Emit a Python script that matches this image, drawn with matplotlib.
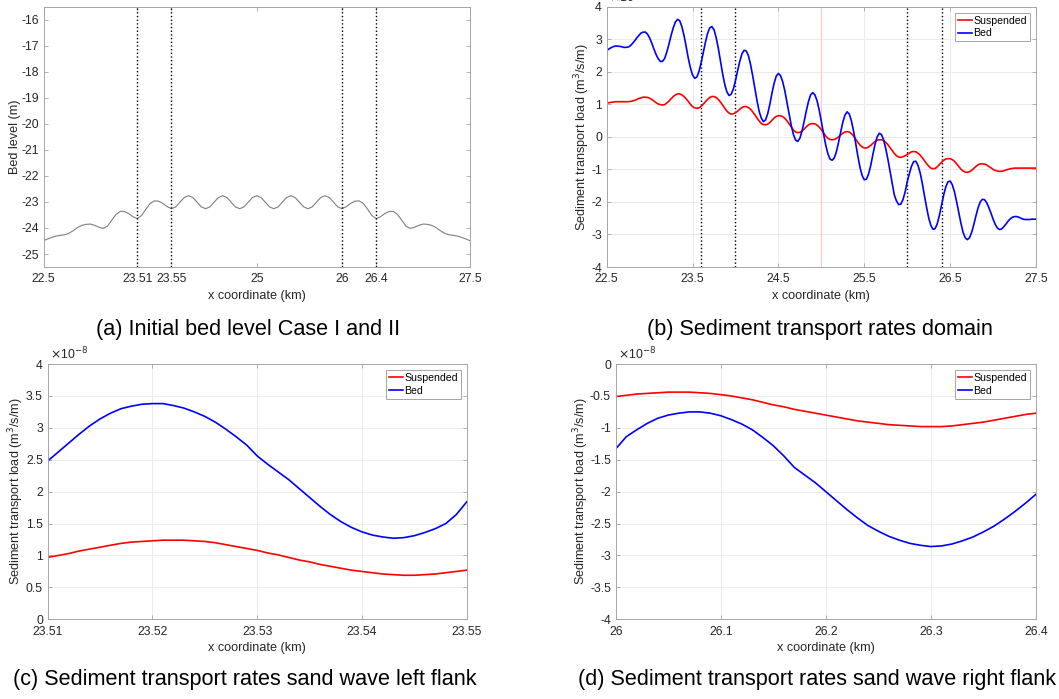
import numpy as np
import matplotlib
matplotlib.use("Agg")
import matplotlib.pyplot as plt
import matplotlib.ticker as mticker

plt.rcParams['font.family'] = ['Liberation Sans', 'DejaVu Sans']
plt.rcParams['axes.unicode_minus'] = False

# (a) initial bed level, sampled every 0.05 km from 22.5 to 27.5
bed_level = [
    -24.49, -24.42, -24.36, -24.31,
    -24.28, -24.26, -24.20, -24.10,
    -23.98, -23.90, -23.86, -23.85,
    -23.90, -23.97, -24.02, -23.93,
    -23.70, -23.48, -23.36, -23.37,
    -23.45, -23.57, -23.64, -23.52,
    -23.28, -23.06, -22.96, -22.97,
    -23.06, -23.18, -23.26, -23.19,
    -23.01, -22.83, -22.76, -22.83,
    -23.01, -23.19, -23.26, -23.19,
    -23.01, -22.83, -22.76, -22.83,
    -23.01, -23.19, -23.26, -23.19,
    -23.01, -22.83, -22.76, -22.83,
    -23.01, -23.19, -23.26, -23.19,
    -23.01, -22.83, -22.76, -22.83,
    -23.01, -23.19, -23.26, -23.19,
    -23.01, -22.83, -22.76, -22.83,
    -23.01, -23.19, -23.26, -23.18,
    -23.06, -22.97, -22.96, -23.06,
    -23.28, -23.52, -23.64, -23.57,
    -23.45, -23.37, -23.36, -23.48,
    -23.70, -23.93, -24.02, -23.97,
    -23.90, -23.85, -23.86, -23.90,
    -23.98, -24.10, -24.20, -24.26,
    -24.28, -24.31, -24.36, -24.42,
    -24.49,
]
x_a = np.linspace(22.5, 27.5, len(bed_level))

# (b) transport over the domain (x 1e-8), sampled every 0.025 km
bed_dom = [
    2.65, 2.70, 2.74, 2.77, 2.79, 2.79, 2.78, 2.77,
    2.75, 2.75, 2.76, 2.80, 2.87, 2.95, 3.04, 3.12,
    3.19, 3.22, 3.22, 3.16, 3.04, 2.88, 2.70, 2.53,
    2.40, 2.32, 2.32, 2.41, 2.61, 2.85, 3.12, 3.35,
    3.53, 3.61, 3.57, 3.39, 3.12, 2.78, 2.42, 2.12,
    1.90, 1.80, 1.84, 2.01, 2.28, 2.60, 2.91, 3.18,
    3.35, 3.39, 3.29, 3.05, 2.72, 2.33, 1.94, 1.61,
    1.38, 1.27, 1.31, 1.47, 1.73, 2.04, 2.32, 2.55,
    2.66, 2.64, 2.50, 2.23, 1.88, 1.50, 1.12, 0.79,
    0.58, 0.47, 0.52, 0.71, 1.00, 1.35, 1.65, 1.87,
    1.95, 1.88, 1.69, 1.41, 1.05, 0.69, 0.34, 0.07,
    -0.10, -0.14, -0.04, 0.18, 0.48, 0.80, 1.09, 1.29,
    1.36, 1.29, 1.11, 0.82, 0.47, 0.10, -0.24, -0.51,
    -0.68, -0.72, -0.65, -0.46, -0.17, 0.15, 0.45, 0.67,
    0.77, 0.70, 0.49, 0.18, -0.20, -0.59, -0.94, -1.19,
    -1.32, -1.30, -1.14, -0.88, -0.54, -0.23, 0.00, 0.11,
    0.07, -0.09, -0.36, -0.69, -1.06, -1.43, -1.79, -1.97,
    -2.08, -2.07, -1.93, -1.70, -1.38, -1.13, -0.90, -0.76,
    -0.75, -0.87, -1.10, -1.42, -1.80, -2.16, -2.49, -2.72,
    -2.84, -2.82, -2.67, -2.41, -2.10, -1.78, -1.53, -1.38,
    -1.36, -1.47, -1.69, -1.99, -2.32, -2.65, -2.93, -3.10,
    -3.16, -3.10, -2.94, -2.70, -2.43, -2.18, -2.00, -1.92,
    -1.93, -2.02, -2.17, -2.34, -2.53, -2.69, -2.80, -2.85,
    -2.83, -2.76, -2.68, -2.59, -2.52, -2.47, -2.45, -2.45,
    -2.47, -2.50, -2.53, -2.54, -2.54, -2.54, -2.53, -2.53,
    -2.53,
]
susp_dom = [
    1.03, 1.05, 1.06, 1.07, 1.08, 1.08, 1.08, 1.08,
    1.08, 1.08, 1.08, 1.09, 1.10, 1.12, 1.15, 1.18,
    1.20, 1.22, 1.22, 1.21, 1.19, 1.15, 1.10, 1.05,
    1.01, 0.99, 0.98, 0.99, 1.04, 1.10, 1.17, 1.24,
    1.29, 1.32, 1.32, 1.29, 1.24, 1.17, 1.09, 1.00,
    0.93, 0.89, 0.88, 0.89, 0.94, 1.01, 1.08, 1.15,
    1.21, 1.24, 1.24, 1.21, 1.15, 1.07, 0.98, 0.88,
    0.79, 0.73, 0.70, 0.71, 0.74, 0.79, 0.85, 0.90,
    0.93, 0.93, 0.90, 0.85, 0.77, 0.68, 0.58, 0.49,
    0.41, 0.38, 0.37, 0.39, 0.44, 0.51, 0.58, 0.63,
    0.65, 0.65, 0.62, 0.57, 0.49, 0.40, 0.30, 0.21,
    0.15, 0.13, 0.14, 0.18, 0.24, 0.31, 0.37, 0.40,
    0.41, 0.40, 0.36, 0.30, 0.22, 0.13, 0.03, -0.04,
    -0.08, -0.09, -0.08, -0.05, 0.00, 0.06, 0.11, 0.15,
    0.16, 0.15, 0.10, 0.03, -0.07, -0.17, -0.25, -0.31,
    -0.34, -0.34, -0.31, -0.26, -0.20, -0.14, -0.10, -0.09,
    -0.09, -0.12, -0.17, -0.24, -0.33, -0.42, -0.51, -0.58,
    -0.62, -0.63, -0.61, -0.58, -0.54, -0.50, -0.46, -0.45,
    -0.46, -0.50, -0.56, -0.64, -0.73, -0.82, -0.90, -0.96,
    -0.98, -0.97, -0.92, -0.85, -0.78, -0.72, -0.68, -0.67,
    -0.67, -0.70, -0.75, -0.83, -0.91, -0.99, -1.05, -1.08,
    -1.09, -1.07, -1.03, -0.97, -0.91, -0.86, -0.83, -0.83,
    -0.84, -0.86, -0.91, -0.95, -1.00, -1.03, -1.05, -1.06,
    -1.06, -1.04, -1.02, -1.00, -0.98, -0.97, -0.96, -0.96,
    -0.96, -0.96, -0.96, -0.96, -0.96, -0.96, -0.96, -0.96,
    -0.96,
]
x_b = np.linspace(22.5, 27.5, len(bed_dom))

# (c) left flank, every 0.001 km
bed_left = [
    2.48, 2.62, 2.76, 2.90, 3.03, 3.14, 3.23, 3.30, 3.34, 3.37,
    3.38, 3.38, 3.35, 3.31, 3.25, 3.18, 3.09, 2.98, 2.86, 2.73,
    2.56, 2.43, 2.31, 2.19, 2.05, 1.91, 1.77, 1.64, 1.53, 1.44,
    1.37, 1.32, 1.29, 1.27, 1.28, 1.31, 1.36, 1.42, 1.50, 1.64,
    1.84,
]
susp_left = [
    0.97, 1.00, 1.03, 1.07, 1.10, 1.13, 1.16, 1.19, 1.21, 1.22,
    1.23, 1.24, 1.24, 1.24, 1.23, 1.22, 1.20, 1.17, 1.14, 1.11,
    1.08, 1.04, 1.01, 0.97, 0.93, 0.90, 0.86, 0.83, 0.80, 0.77,
    0.75, 0.73, 0.71, 0.70, 0.69, 0.69, 0.70, 0.71, 0.73, 0.75,
    0.77,
]
x_c = np.linspace(23.51, 23.55, len(bed_left))

# (d) right flank, every 0.01 km
bed_right = [
    -1.33, -1.14, -1.03, -0.93, -0.85, -0.80, -0.77, -0.75, -0.75, -0.77,
    -0.81, -0.87, -0.94, -1.03, -1.15, -1.28, -1.44, -1.62, -1.74, -1.86,
    -2.00, -2.14, -2.28, -2.41, -2.53, -2.62, -2.70, -2.76, -2.81, -2.84,
    -2.86, -2.85, -2.82, -2.77, -2.71, -2.63, -2.54, -2.43, -2.31, -2.18,
    -2.04,
]
susp_right = [
    -0.51, -0.49, -0.47, -0.46, -0.45, -0.44, -0.44, -0.44, -0.45, -0.46,
    -0.48, -0.50, -0.53, -0.56, -0.60, -0.64, -0.67, -0.71, -0.74, -0.77,
    -0.80, -0.83, -0.86, -0.89, -0.91, -0.93, -0.95, -0.96, -0.97, -0.98,
    -0.98, -0.98, -0.97, -0.95, -0.93, -0.91, -0.88, -0.85, -0.82, -0.79,
    -0.77,
]
x_d = np.linspace(26.0, 26.4, len(bed_right))

marker_x = [23.6, 24.0, 26.0, 26.4]
ticks_a = [22.5, 23.6, 24.0, 25.0, 26.0, 26.4, 27.5]
ticklabels_a = ['22.5', '23.51', '23.55', '25', '26', '26.4', '27.5']

TICK_FS = 8.8
LAB_FS = 9.1
LEG_FS = 7.6
YLAB = 'Sediment transport load (m$^3$/s/m)'
TXT = '#262626'
SPINE = '#a6a6a6'


def style(ax, grid=True):
    for s in ax.spines.values():
        s.set_color(SPINE)
        s.set_linewidth(0.7)
    ax.tick_params(direction='in', top=True, right=True, length=3,
                   width=0.6, color=SPINE, labelsize=TICK_FS, labelcolor=TXT, pad=3.4)
    ax.tick_params(axis='x', pad=4.6)
    ax.yaxis.set_major_formatter(mticker.FuncFormatter(lambda v, _: f'{v:g}'))
    if grid:
        ax.grid(True, color='#ebebeb', linewidth=0.7)
        ax.set_axisbelow(True)
    ax.set_xlabel('x coordinate (km)', fontsize=LAB_FS, color=TXT, labelpad=3)


def exponent(ax):
    ax.text(0.005, 1.005, r'$\times$10$^{-8}$', transform=ax.transAxes,
            fontsize=TICK_FS, color=TXT, va='bottom', ha='left')


def legend(ax):
    lg = ax.legend(loc='upper right', fontsize=LEG_FS, fancybox=False,
                   edgecolor='#a6a6a6', framealpha=1, borderpad=0.3,
                   handlelength=1.35, handletextpad=0.1, labelspacing=0.25,
                   borderaxespad=0.55)
    lg.get_frame().set_linewidth(0.7)


fig = plt.figure(figsize=(10.59, 6.99), dpi=100)

# (a)
ax_a = fig.add_axes([0.0411, 0.618, 0.4027, 0.3724])
ax_a.plot(x_a, bed_level, color='#7f7f7f', linewidth=0.8)
for xv in marker_x:
    ax_a.axvline(xv, color='black', linestyle=':', linewidth=1.0)
ax_a.set_xlim(22.5, 27.5)
ax_a.set_ylim(-25.5, -15.5)
ax_a.set_yticks(np.arange(-25, -15, 1))
ax_a.set_xticks(ticks_a)
ax_a.set_xticklabels(ticklabels_a)
style(ax_a, grid=False)
ax_a.set_ylabel('Bed level (m)', fontsize=LAB_FS, color=TXT, labelpad=0)

# (b)
ax_b = fig.add_axes([0.5729, 0.618, 0.4054, 0.3724])
ax_b.axvline(25.0, color='#ffc8c8', linewidth=0.8)
for xv in marker_x:
    ax_b.axvline(xv, color='black', linestyle=':', linewidth=1.0)
ax_b.plot(x_b, susp_dom, color='#ff0000', linewidth=1.2, label='Suspended')
ax_b.plot(x_b, bed_dom, color='#0000ff', linewidth=1.2, label='Bed')
ax_b.set_xlim(22.5, 27.5)
ax_b.set_ylim(-4, 4)
ax_b.set_xticks(np.arange(22.5, 27.6, 1.0))
ax_b.set_yticks(np.arange(-4, 5, 1))
style(ax_b)
ax_b.set_ylabel(YLAB, fontsize=LAB_FS, color=TXT, labelpad=-0.5)
exponent(ax_b)
legend(ax_b)

# (c)
ax_c = fig.add_axes([0.045, 0.114, 0.3957, 0.3652])
ax_c.plot(x_c, susp_left, color='#ff0000', linewidth=1.2, label='Suspended')
ax_c.plot(x_c, bed_left, color='#0000ff', linewidth=1.2, label='Bed')
ax_c.set_xlim(23.51, 23.55)
ax_c.set_ylim(0, 4)
ax_c.set_xticks([23.51, 23.52, 23.53, 23.54, 23.55])
ax_c.set_yticks(np.arange(0, 4.01, 0.5))
style(ax_c)
ax_c.xaxis.set_major_formatter(mticker.FuncFormatter(lambda v, _: f'{v:.2f}'))
ax_c.set_ylabel(YLAB, fontsize=LAB_FS, color=TXT, labelpad=0)
exponent(ax_c)
legend(ax_c)

# (d)
ax_d = fig.add_axes([0.5814, 0.114, 0.3969, 0.3652])
ax_d.plot(x_d, susp_right, color='#ff0000', linewidth=1.2, label='Suspended')
ax_d.plot(x_d, bed_right, color='#0000ff', linewidth=1.2, label='Bed')
ax_d.set_xlim(26.0, 26.4)
ax_d.set_ylim(-4, 0)
ax_d.set_xticks([26.0, 26.1, 26.2, 26.3, 26.4])
ax_d.set_yticks(np.arange(-4, 0.01, 0.5))
style(ax_d)
ax_d.xaxis.set_major_formatter(mticker.FuncFormatter(lambda v, _: f'{v:g}'))
ax_d.set_ylabel(YLAB, fontsize=LAB_FS, color=TXT, labelpad=-0.5)
exponent(ax_d)
legend(ax_d)

# captions
CAP = 15.6
fig.text(248 / 1059, 1 - 330 / 699, '(a) Initial bed level Case I and II',
         fontsize=CAP, ha='center', va='center', color='black')
fig.text(820 / 1059, 1 - 330 / 699, '(b) Sediment transport rates domain',
         fontsize=CAP, ha='center', va='center', color='black')
fig.text(245 / 1059, 1 - 680 / 699, '(c) Sediment transport rates sand wave left flank',
         fontsize=CAP, ha='center', va='center', color='black')
fig.text(817 / 1059, 1 - 680 / 699, '(d) Sediment transport rates sand wave right flank',
         fontsize=CAP, ha='center', va='center', color='black')

fig.savefig('out.png', dpi=100)
